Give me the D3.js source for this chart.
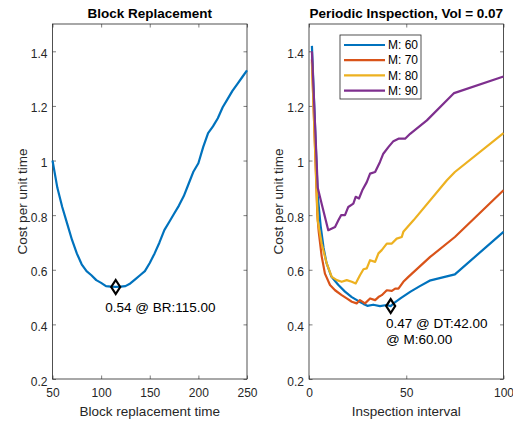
<!DOCTYPE html>
<html><head><meta charset="utf-8">
<script src="https://cdn.jsdelivr.net/npm/d3@7"></script>
<style>
body{margin:0;background:#fff;}
svg{display:block;font-family:"Liberation Sans",Arial,Helvetica,sans-serif;}
</style></head>
<body>
<svg id="c" width="513" height="422"></svg>
<script>
// ---- Data ----
const brX = [50,55,60,65,70,75,80,85,90,95,100,105,110,115,120,125,130,135,140,145,150,155,160,165,170,175,180,185,190,195,200,205,210,215,220,225,230,235,240,245,250];
const brY = [1.00,0.90,0.83,0.77,0.71,0.66,0.62,0.595,0.58,0.562,0.552,0.54,0.538,0.537,0.538,0.54,0.55,0.565,0.58,0.595,0.625,0.66,0.70,0.745,0.775,0.805,0.835,0.87,0.915,0.96,0.99,1.05,1.10,1.125,1.155,1.195,1.225,1.255,1.28,1.305,1.33];
const brBest = {x:115, y:0.537, label:"0.54 @ BR:115.00"};

const m60X = [1.5,4.5,6,7.5,9,11.5,15,18.5,22,25.5,28,30,33,36.5,40,42,44,47,52,57,62,75,100];
const m60Y = [1.42,0.87,0.76,0.68,0.625,0.575,0.545,0.52,0.50,0.485,0.475,0.468,0.472,0.467,0.471,0.467,0.48,0.495,0.519,0.54,0.56,0.583,0.739];
const m70X = [1.5,4.3,5,6.5,8.2,10.8,13.4,16.8,19.4,22,24.5,26.2,28.8,31.4,34,35.7,37.4,40,42.6,44.3,46,48.5,51.1,62.3,75,100];
const m70Y = [1.37,0.80,0.74,0.65,0.586,0.544,0.525,0.507,0.495,0.483,0.477,0.489,0.477,0.495,0.489,0.5,0.507,0.525,0.523,0.531,0.531,0.556,0.574,0.647,0.72,0.891];
const m80X = [1.5,4.5,6.5,9.1,11.7,14.3,16.8,19.4,22,24,26.2,28,29.7,31.4,34,35.7,37.4,40,42.6,45.1,47.7,48.5,53.7,70.9,75,100];
const m80Y = [1.36,0.78,0.696,0.623,0.574,0.562,0.556,0.562,0.556,0.55,0.58,0.602,0.605,0.635,0.629,0.66,0.672,0.696,0.696,0.714,0.72,0.739,0.781,0.928,0.958,1.10];
const m90X = [1.5,4.5,6.5,9.9,13.4,15.1,16.5,18.5,20.2,22.8,24,25.7,27.4,29.7,31.4,34,36.5,38.2,40.8,43.4,46,49.4,52,60.6,74.6,100];
const m90Y = [1.40,0.90,0.842,0.745,0.757,0.781,0.8,0.8,0.83,0.842,0.867,0.861,0.891,0.921,0.952,0.958,0.995,1.025,1.049,1.071,1.08,1.08,1.098,1.147,1.247,1.308];
const seriesNames = ["M: 60","M: 70","M: 80","M: 90"];
const piBest = {x:42, y:0.467, label1:"0.47 @ DT:42.00", label2:"@ M:60.00"};

const yTicks = [0.2,0.4,0.6,0.8,1,1.2,1.4];
const brXTicks = [50,100,150,200,250];
const piXTicks = [0,50,100];

// ---- Drawing ----
const svg = d3.select("#c");
const colors = ["#0072BD","#D95319","#EDB120","#7E2F8E"];
const axCol = "#262626";
const yTop = 24, yBot = 379;

function panel(x0, x1, xDom, xTicks, title, xlabel, ylabelX){
  const x = d3.scaleLinear().domain(xDom).range([x0,x1]);
  const y = d3.scaleLinear().domain([0.2,1.5]).range([yBot,yTop]);
  const g = svg.append("g");
  g.append("rect").attr("x",x0).attr("y",yTop).attr("width",x1-x0).attr("height",yBot-yTop)
    .attr("fill","#fff");
  const fmt = d => String(d);
  const ax = (gen, tr, lbl) => {
    const a = g.append("g").attr("transform",tr).call(gen);
    a.select(".domain").remove();
    a.selectAll(".tick line").attr("stroke",axCol).attr("stroke-width",0.6);
    a.selectAll("text").attr("fill",axCol).style("font-size","12px").style("font-family",'"Liberation Sans",Arial,sans-serif');
    if(!lbl) a.selectAll("text").remove();
    return a;
  };
  ax(d3.axisBottom(x).tickValues(xTicks).tickSize(-3.5).tickPadding(9.5).tickFormat(fmt), `translate(0,${yBot})`, true);
  ax(d3.axisTop(x).tickValues(xTicks).tickSize(-3.5).tickFormat(""), `translate(0,${yTop})`, false);
  const yl = ax(d3.axisLeft(y).tickValues(yTicks).tickSize(-3.5).tickPadding(5).tickFormat(fmt), `translate(${x0},0)`, true);
  yl.selectAll("text").attr("dy","0.5em");
  ax(d3.axisRight(y).tickValues(yTicks).tickSize(-3.5).tickFormat(""), `translate(${x1},0)`, false);
  g.append("rect").attr("x",x0).attr("y",yTop).attr("width",x1-x0).attr("height",yBot-yTop)
    .attr("fill","none").attr("stroke",axCol).attr("stroke-width",0.8);
  g.append("text").attr("x",(x0+x1)/2).attr("y",18).attr("text-anchor","middle")
    .attr("font-weight","bold").attr("font-size","13.5px").attr("fill","#000").text(title);
  g.append("text").attr("x",(x0+x1)/2).attr("y",415.5).attr("text-anchor","middle")
    .attr("font-size","13.5px").attr("fill",axCol).text(xlabel);
  g.append("text").attr("transform",`translate(${ylabelX},${(yTop+yBot)/2}) rotate(-90)`)
    .attr("text-anchor","middle").attr("font-size","13.5px").attr("fill",axCol).text("Cost per unit time");
  return {g,x,y};
}

function diamond(g, cx, cy){
  g.append("path").attr("d",`M${cx},${cy-7}L${cx+4.5},${cy}L${cx},${cy+7}L${cx-4.5},${cy}Z`)
    .attr("fill","none").attr("stroke","#000").attr("stroke-width",2.2);
}

// Left panel
const L = panel(52.5, 247, [50,250], brXTicks, "Block Replacement", "Block replacement time", 26.5);
const line = (x,y) => d3.line().x(d=>x(d[0])).y(d=>y(d[1]));
L.g.append("path").datum(d3.zip(brX,brY)).attr("d",line(L.x,L.y))
  .attr("fill","none").attr("stroke",colors[0]).attr("stroke-width",2.2).attr("stroke-linejoin","round");
diamond(L.g, L.x(brBest.x), L.y(brBest.y));
L.g.append("text").attr("x",L.x(brBest.x)-10.5).attr("y",L.y(brBest.y)+25)
  .attr("font-size","13.5px").attr("fill","#000").text(brBest.label);

// Right panel
const R = panel(309, 503.5, [0,100], piXTicks, "Periodic Inspection, Vol = 0.07", "Inspection interval", 282.5);
const series = [[m60X,m60Y],[m70X,m70Y],[m80X,m80Y],[m90X,m90Y]];
series.forEach((s,i)=>{
  R.g.append("path").datum(d3.zip(s[0],s[1])).attr("d",line(R.x,R.y))
    .attr("fill","none").attr("stroke",colors[i]).attr("stroke-width",2.2).attr("stroke-linejoin","round");
});
diamond(R.g, R.x(piBest.x), R.y(piBest.y));
R.g.append("text").attr("x",R.x(piBest.x)-4.6).attr("y",R.y(piBest.y)+21.5)
  .attr("font-size","13.5px").attr("fill","#000").text(piBest.label1);
R.g.append("text").attr("x",R.x(piBest.x)-4.6).attr("y",R.y(piBest.y)+38)
  .attr("font-size","13.5px").attr("fill","#000").text(piBest.label2);

// Legend
const lg = R.g.append("g");
lg.append("rect").attr("x",340).attr("y",35).attr("width",81).attr("height",64)
  .attr("fill","#fff").attr("stroke",axCol).attr("stroke-width",0.8);
seriesNames.forEach((n,i)=>{
  const yy = 45 + i*15.2;
  lg.append("line").attr("x1",344).attr("x2",385).attr("y1",yy).attr("y2",yy)
    .attr("stroke",colors[i]).attr("stroke-width",2.2);
  lg.append("text").attr("x",388).attr("y",yy).attr("dy","0.35em")
    .attr("font-size","12px").attr("fill","#000").text(n);
});
</script>
</body></html>
